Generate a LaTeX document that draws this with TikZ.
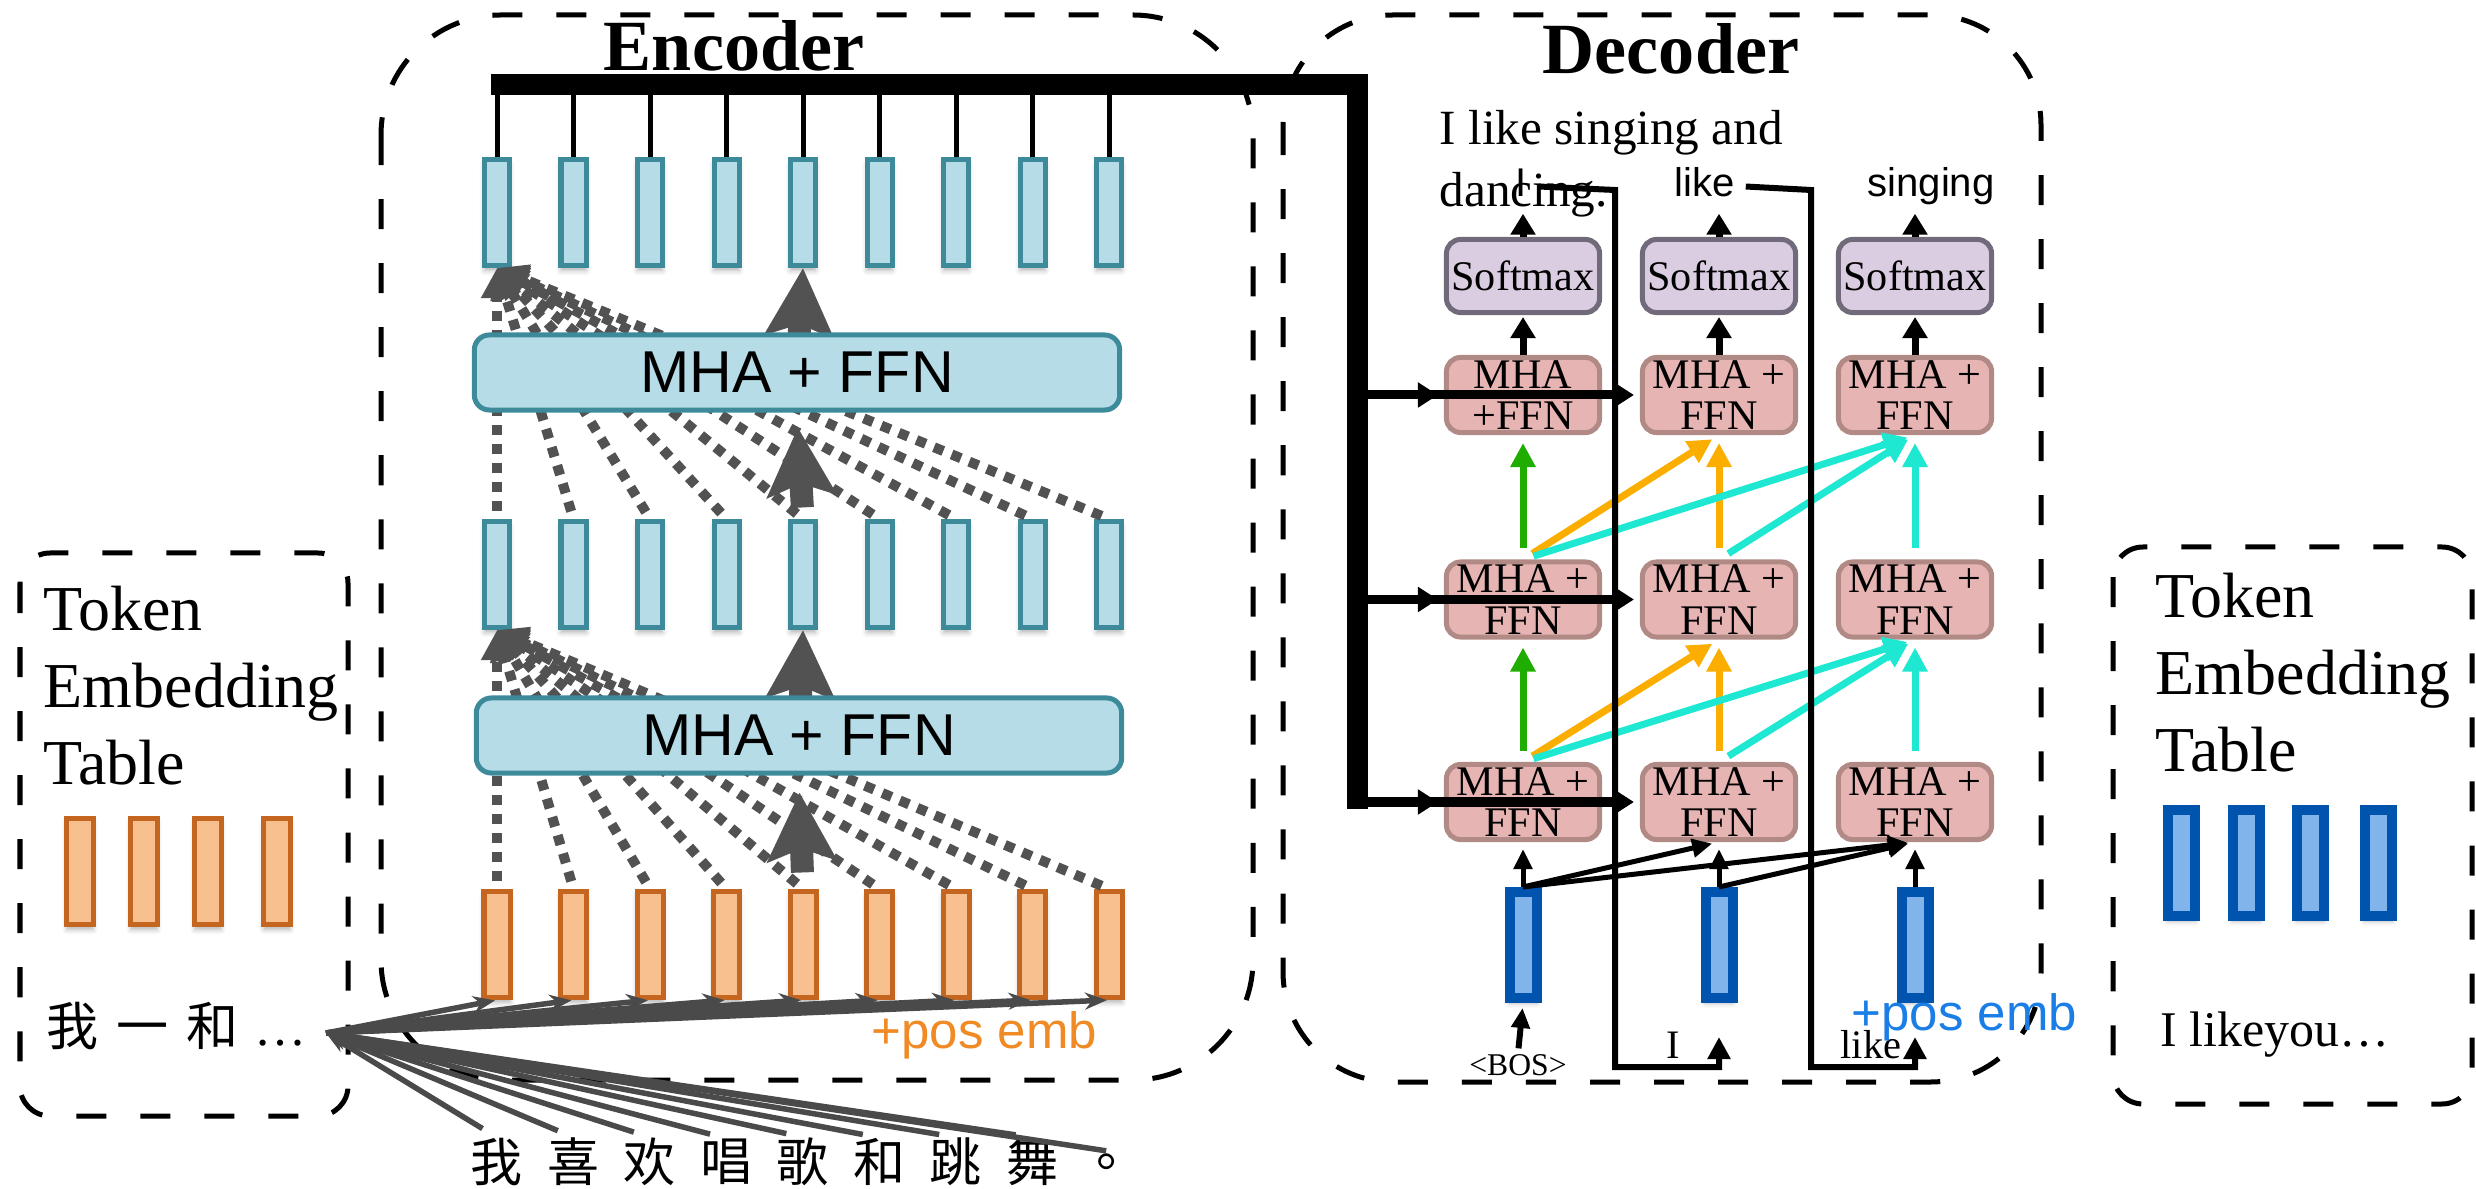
\documentclass[tikz,border=0pt]{standalone}
\usepackage{fontspec}
\setmainfont{Liberation Serif}
\setsansfont{Liberation Sans}
\newfontfamily\cjk{Noto Sans CJK SC}
\usetikzlibrary{arrows.meta,shadows.blur}
\definecolor{tealB}{RGB}{61,138,155}
\definecolor{tealF}{RGB}{182,221,231}
\definecolor{orB}{RGB}{196,102,31}
\definecolor{orF}{RGB}{248,191,143}
\definecolor{blB}{RGB}{0,84,174}
\definecolor{blF}{RGB}{128,180,235}
\definecolor{pkB}{RGB}{177,138,134}
\definecolor{pkF}{RGB}{230,180,179}
\definecolor{lvB}{RGB}{113,106,122}
\definecolor{lvF}{RGB}{219,205,225}
\definecolor{agray}{RGB}{82,82,82}
\definecolor{fgray}{RGB}{74,74,74}
\definecolor{gArr}{RGB}{30,173,0}
\definecolor{oArr}{RGB}{251,174,0}
\definecolor{cArr}{RGB}{30,232,210}
\definecolor{posO}{RGB}{240,138,36}
\definecolor{posB}{RGB}{26,126,230}
\newcommand\fsz[2]{\fontsize{#1}{#2}\selectfont}
\tikzset{
 dbox/.style={draw=black, line width=0.05cm, dash pattern=on 0.30cm off 0.34cm},
 barshadow/.style={blur shadow={shadow xshift=0cm, shadow yshift=-0.05cm, shadow blur radius=0.05cm, shadow opacity=30}},
 tbar/.style={draw=tealB, fill=tealF, line width=0.05cm, minimum width=0.25cm, minimum height=1.06cm, inner sep=0pt, barshadow},
 obar/.style={draw=orB, fill=orF, line width=0.05cm, minimum width=0.26cm, minimum height=1.06cm, inner sep=0pt, barshadow},
 bbar/.style={draw=blB, fill=blF, line width=0.10cm, minimum width=0.27cm, minimum height=1.06cm, inner sep=0pt, barshadow},
 embox/.style={draw=tealB, fill=tealF, line width=0.05cm, rounded corners=0.15cm, minimum width=6.45cm, minimum height=0.75cm, inner sep=0pt, font=\sffamily\fsz{16.8pt}{18pt}},
 dmha/.style={draw=pkB, fill=pkF, line width=0.05cm, rounded corners=0.14cm, minimum width=1.53cm, minimum height=0.75cm, inner sep=0pt, align=center, font=\fsz{12pt}{11.8pt}},
 smx/.style={draw=lvB, fill=lvF, line width=0.05cm, rounded corners=0.14cm, minimum width=1.53cm, minimum height=0.73cm, inner sep=0pt, font=\fsz{12pt}{12pt}},
 attn/.style={draw=agray, line width=0.10cm, dash pattern=on 0.10cm off 0.09cm, -{Triangle[length=0.30cm,width=0.30cm]}, shorten <=0.08cm},
 bigarr/.style={draw=agray, line width=0.23cm, -{Stealth[length=0.68cm,width=0.68cm,inset=0.12cm]}},
 fan/.style={draw=fgray, line width=0.055cm, -{Stealth[length=0.22cm,width=0.17cm]}},
 busarr/.style={draw=black, line width=0.09cm, -{Triangle[length=0.20cm,width=0.24cm]}, shorten >=0.06cm},
 colarr/.style={line width=0.07cm, -{Triangle[length=0.24cm,width=0.24cm]}, shorten <=0.11cm, shorten >=0.08cm},
 thinarr/.style={draw=black, line width=0.05cm, -{Triangle[length=0.20cm,width=0.18cm]}},
 smarr/.style={draw=black, line width=0.07cm, -{Triangle[length=0.21cm,width=0.24cm]}},
 fbline/.style={draw=black, line width=0.06cm, -{Triangle[length=0.22cm,width=0.22cm]}},
 olab/.style={font=\sffamily\fsz{11.4pt}{12pt}, inner sep=0pt, text height=0.30cm, text depth=0.08cm, anchor=base},
 ilab/.style={inner sep=0pt, anchor=base},
 zh/.style={inner sep=0pt, font=\cjk\fsz{14.8pt}{16pt}},
 title/.style={font=\bfseries\fsz{20.5pt}{22pt}, inner sep=0pt, anchor=base},
}
\begin{document}
\begin{tikzpicture}[x=0.01cm,y=-0.01cm]
\useasboundingbox (0,0) rectangle (2476,1189);

% dashed frames
\draw[dbox, rounded corners=0.3cm] (20,553) rectangle (348,1116);
\draw[dbox, rounded corners=1.2cm] (381,15) rectangle (1253,1080);
\draw[dbox, rounded corners=1.1cm] (1283,15) rectangle (2041,1082);
\draw[dbox, rounded corners=0.3cm] (2113,547) rectangle (2472,1104);

% ---------- left token embedding table ----------
\node[anchor=north west, align=left, inner sep=0pt, font=\fsz{18.2pt}{21.9pt}] (tokL) at (43,585) {Token\\Embedding\\Table};
\foreach \i/\xx in {1/80,2/144,3/208,4/277}
  \node[obar] (lb\i) at (\xx,871.5) {};
\node[ilab, anchor=base west, font=\fsz{14.8pt}{16pt}] (zhL) at (46,1045)
  {{\cjk 我}\hspace{0.18cm}{\cjk 一}\hspace{0.18cm}{\cjk 和}\hspace{0.16cm}…};

% ---------- encoder ----------
\node[title] (enc) at (734,71) {Encoder};
\foreach \i in {1,...,9}{
  \pgfmathsetmacro\xx{497+76.5*(\i-1)}
  \node[tbar] (t\i) at (\xx,212.5) {};
  \node[tbar] (m\i) at (\xx,574.5) {};
  \node[obar] (o\i) at (\xx,944.5) {};
}
\foreach \i/\c in {1/我,2/喜,3/欢,4/唱,5/歌,6/和,7/跳,8/舞}{
  \pgfmathsetmacro\xx{497+76.5*(\i-1)}
  \node[zh] (c\i) at (\xx,1162) {\c};
}
\node[zh] (c9) at (1123,1162) {。};
% bus
\coordinate (busL) at (491,85);
\coordinate (busC) at (1357,85);
\coordinate (busB) at (1357,809);
\foreach \i in {1,...,9}
  \draw[line width=0.05cm] (t\i.north) -- (t\i.north |- busL);
\draw[line width=0.21cm] (busL) -- (busC) -- (busB);

% attention (dashed) lines
\foreach \i in {1,...,9}{
  \draw[attn] (o\i.north) -- (m1.south);
  \draw[attn] (m\i.north) -- (t1.south);
}
% residual big arrows behind blocks
\draw[bigarr] (735,735.5) ++(64,0) -- (m5.south);
\draw[bigarr] (733,372.5) ++(64,0) -- (t5.south);
\node[embox] (h1) at (799,735.5) {MHA + FFN};
\node[embox] (h2) at (797,372.5) {MHA + FFN};
\draw[bigarr, shorten <=0.165cm, shorten >=0.17cm] (o5.north) -- (h1.south);
\draw[bigarr, shorten <=0.115cm, shorten >=0.15cm] (m5.north) -- (h2.south);

% fan from vocabulary
\coordinate (fo) at (326,1033);
\foreach \i in {1,...,9}{
  \draw[fan, shorten >=0.02cm] (fo) -- (o\i.south);
  \draw[fan, shorten <=0.17cm] (c\i.north) -- (fo);
}
\node[ilab, anchor=base west, text=posO, font=\sffamily\fsz{14.5pt}{16pt}] (posE) at (871,1048) {+pos emb};

% ---------- decoder ----------
\node[title] (dec) at (1671,74) {Decoder};
\node[anchor=north west, align=left, inner sep=0pt, font=\fsz{14pt}{17.6pt}] (tgt) at (1439,110) {I like singing and\\dancing.};

\foreach \c/\xx in {1/1523,2/1719,3/1915}{
  \node[smx] (s\c) at (\xx,276) {Softmax};
  \node[bbar] (in\c) at (\xx,945) {};
}
\node[dmha] (d31) at (1523,395) {MHA\\+FFN};
\node[dmha] (d32) at (1719,395) {MHA +\\FFN};
\node[dmha] (d33) at (1915,395) {MHA +\\FFN};
\foreach \r/\yy in {2/599.5,1/802}{
  \node[dmha] (d\r1) at (1523,\yy) {MHA +\\FFN};
  \node[dmha] (d\r2) at (1719,\yy) {MHA +\\FFN};
  \node[dmha] (d\r3) at (1915,\yy) {MHA +\\FFN};
}

% output labels
\node[olab] (ol1) at (1521,197) {I};
\node[olab] (ol2) at (1705,197) {like};
\node[olab] (ol3) at (1931,197) {singing};
\foreach \c in {1,2,3}{
  \draw[smarr, shorten >=0.02cm] (d3\c.north) -- (s\c.south);
  \draw[smarr, shorten >=0.08cm] (s\c.north) -- (s\c.north |- ol\c.south);
}

% colored attention arrows
\foreach \lo/\hi in {1/2,2/3}{
  \draw[colarr, draw=gArr] (d\lo1.north) -- (d\hi1.south);
  \draw[colarr, draw=oArr] (d\lo1.north) -- (d\hi2.south);
  \draw[colarr, draw=oArr] (d\lo2.north) -- (d\hi2.south);
  \draw[colarr, draw=cArr] (d\lo1.north) -- (d\hi3.south);
  \draw[colarr, draw=cArr] (d\lo2.north) -- (d\hi3.south);
  \draw[colarr, draw=cArr] (d\lo3.north) -- (d\hi3.south);
}

% feedback lines
\draw[fbline, shorten <=0.12cm, shorten >=0.34cm] (ol1.east) -- (1615,190) -- (1615,1067) -| (in2.south);
\draw[fbline, shorten <=0.10cm, shorten >=0.34cm] (ol2.east) -- (1811,190) -- (1811,1067) -| (in3.south);

% encoder memory into decoder
\foreach \r in {3,2,1}{
  \coordinate (bus\r) at (busB |- d\r1.west);
  \draw[busarr] (bus\r) -- (d\r1.west);
  \draw[busarr] (bus\r) -- (d\r2.west);
}

% decoder inputs
\node[ilab, font=\fsz{9pt}{10pt}] (bos) at (1518,1075) {<BOS>};
\node[ilab, font=\fsz{11.5pt}{12pt}] (iI) at (1673,1058) {I};
\node[ilab, font=\fsz{11.5pt}{12pt}] (iLike) at (1871,1058) {like};
\draw[thinarr, line width=0.06cm, shorten <=0.05cm, shorten >=0.05cm] (bos.north) -- (in1.south);
\draw[thinarr, shorten >=0.07cm] (in1.north) -- (d11.south);
\draw[thinarr, shorten >=0.07cm] (in1.north) -- (d12.south);
\draw[thinarr, shorten >=0.07cm] (in1.north) -- (d13.south);
\draw[thinarr, shorten >=0.07cm] (in2.north) -- (d12.south);
\draw[thinarr, shorten >=0.07cm] (in2.north) -- (d13.south);
\draw[thinarr, shorten >=0.07cm] (in3.north) -- (d13.south);
\node[ilab, anchor=base west, text=posB, font=\sffamily\fsz{14.5pt}{16pt}] (posD) at (1851,1030) {+pos emb};

% ---------- right token embedding table ----------
\node[anchor=north west, align=left, inner sep=0pt, font=\fsz{18.2pt}{21.9pt}] (tokR) at (2155,572) {Token\\Embedding\\Table};
\foreach \i/\xx in {1/2181.5,2/2246,3/2310.5,4/2378.5}
  \node[bbar] (rb\i) at (\xx,863) {};
\node[ilab, anchor=base west, font=\fsz{14.2pt}{16pt}] (enL) at (2160,1046) {I likeyou…};
\end{tikzpicture}
\end{document}
